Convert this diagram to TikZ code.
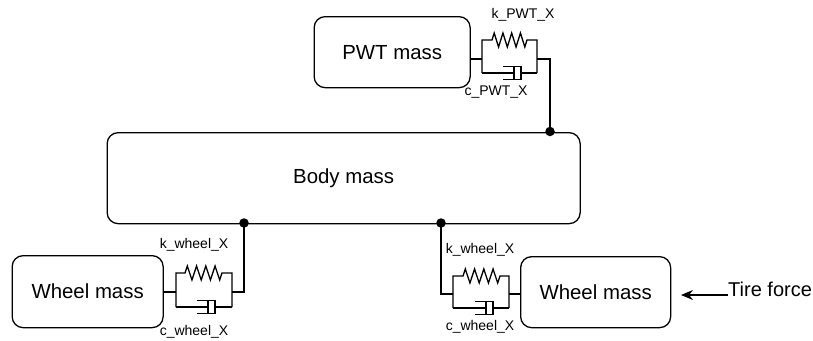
\documentclass[tikz,border=0pt]{standalone}
\usepackage{fontspec}
\setmainfont{Liberation Sans}
\usetikzlibrary{arrows.meta,calc}
\tikzset{
  mass/.style={draw=black,line width=1.3pt,rounded corners=11pt,inner sep=0pt,anchor=north west,font=\fontsize{20.4}{22}\selectfont},
  lab/.style={font=\fontsize{14}{16}\selectfont,inner sep=0pt},
  wire/.style={draw=black,line width=1.3pt,line join=miter},
  joint/.style={circle,fill=black,inner sep=0pt,minimum size=9.5pt},
  force/.style={draw=black,line width=1.3pt,-{Stealth[length=12pt,width=10pt]}}
}
% #1 name, #2 left x, #3 right x, #4 top y, #5 mid y, #6 bottom y, #7 spring start x, #8 spring end x, #9 cylinder left x
\newcommand{\kelvin}[9]{%
  \coordinate (#1L) at (#2,#5);
  \coordinate (#1R) at (#3,#5);
  \draw[wire] (#2,#6) -- (#2,#4) -- (#7,#4)
    -- ++({(#8-#7)/16},-7)
    \foreach \i in {1,...,3} { -- ++({(#8-#7)/8},14) -- ++({(#8-#7)/8},-14) }
    -- ++({(#8-#7)/8},14) -- (#8,#4) -- (#3,#4) -- (#3,#6);
  \draw[wire] (#2,#6) -- ({#9+11},#6);
  \draw[wire] ({#9+11},{#6-6.5}) -- ({#9+11},{#6+6.5});
  \draw[wire] (#9,{#6-6.5}) -- ({#9+18},{#6-6.5}) -- ({#9+18},{#6+6.5}) -- (#9,{#6+6.5});
  \draw[wire] ({#9+18},#6) -- (#3,#6);
}
\begin{document}
\begin{tikzpicture}[x=1pt,y=-1pt]
\useasboundingbox (0,0) rectangle (813,340);
\node[mass,minimum width=156pt,minimum height=71pt] (pwt) at (313.5,16) {PWT mass};
\node[mass,minimum width=473pt,minimum height=91pt] (body) at (106.5,132) {Body mass};
\node[mass,minimum width=151pt,minimum height=72pt] (wl) at (11.5,255) {Wheel mass};
\node[mass,minimum width=150pt,minimum height=71pt] (wr) at (520,256) {Wheel mass};

\kelvin{p}{482}{537}{40}{59}{73}{492}{527}{503}
\kelvin{l}{176}{232}{273}{292}{307}{185}{222}{197}
\kelvin{r}{453}{509}{276}{294}{308}{463}{500}{475}

\node[joint] (jp) at (550,131.5) {};
\node[joint] (jl) at (244,223) {};
\node[joint] (jr) at (441,223) {};

\draw[wire] (pwt.east |- pL) -- (pL);
\draw[wire] (pR) -| (jp.center);
\draw[wire] (wl.east |- lL) -- (lL);
\draw[wire] (lR) -| (jl.center);
\draw[wire] (wr.west |- rR) -- (rR);
\draw[wire] (rL) -| (jr.center);

\node[lab] (kp) at (523,15) {k\_PWT\_X};
\node[lab] (cp) at (496,92) {c\_PWT\_X};
\node[lab] (kl) at (194,245) {k\_wheel\_X};
\node[lab] (cl) at (194,332) {c\_wheel\_X};
\node[lab] (kr) at (480,250) {k\_wheel\_X};
\node[lab] (cr) at (480,327) {c\_wheel\_X};

\node[inner sep=0pt,font=\fontsize{20}{22}\selectfont,anchor=west] (tire) at (728,289) {Tire force};
\coordinate (tip) at (681,295);
\draw[force] (tire.west |- tip) -- (tip);
\end{tikzpicture}
\end{document}
